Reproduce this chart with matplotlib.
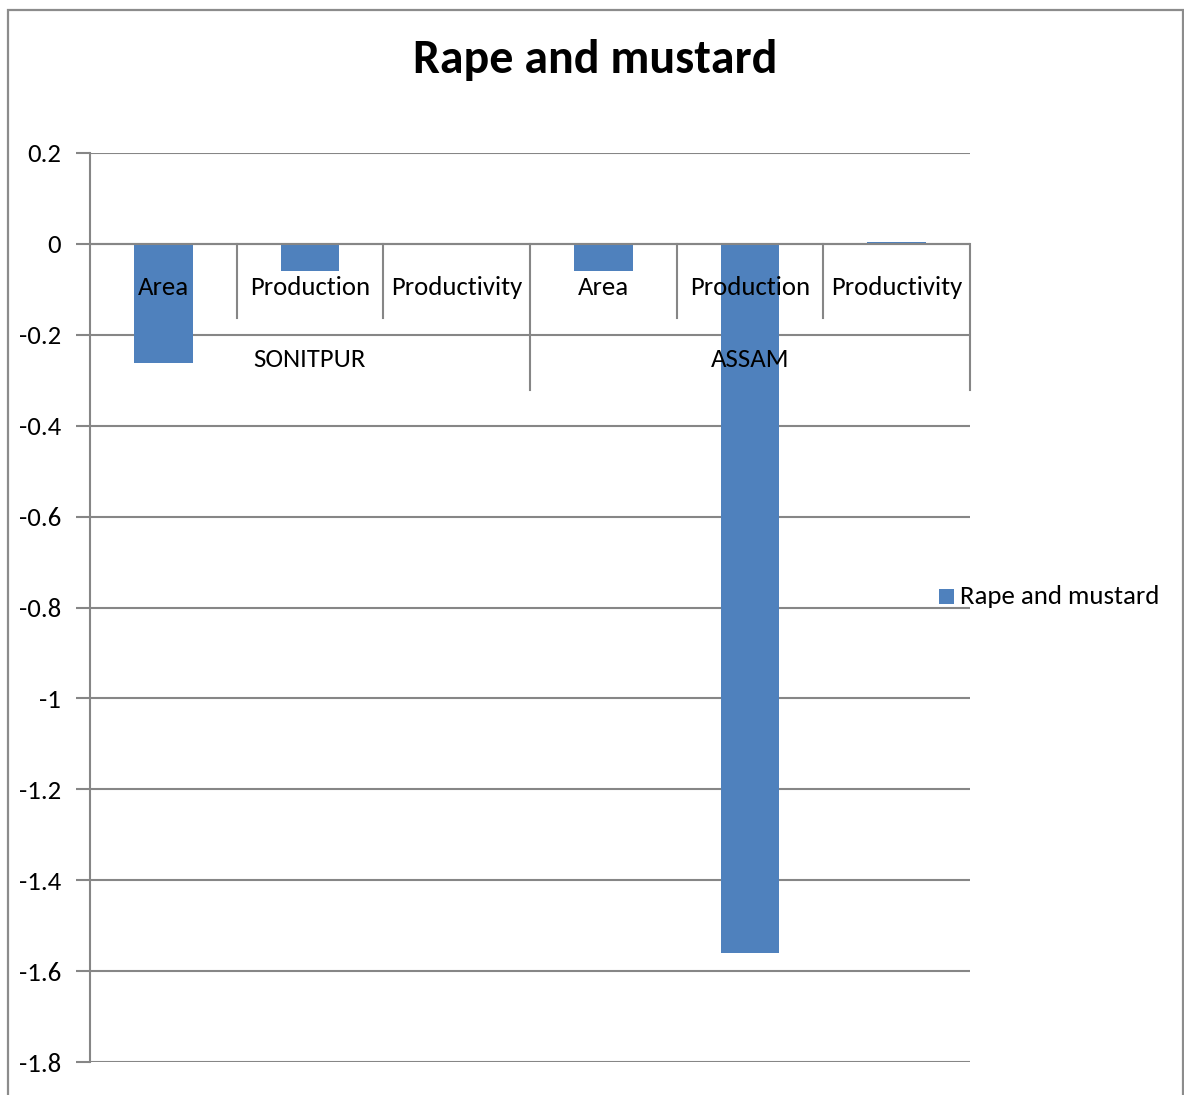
import matplotlib
matplotlib.use("Agg")
import matplotlib.pyplot as plt
from matplotlib.patches import Rectangle

# Change figures for rape and mustard
groups = ["SONITPUR", "ASSAM"]
measures = ["Area", "Production", "Productivity"]
values = [-0.262, -0.06, 0.0, -0.06, -1.56, 0.004]
series_name = "Rape and mustard"
yticks = [0.2, 0, -0.2, -0.4, -0.6, -0.8, -1, -1.2, -1.4, -1.6, -1.8]
ytick_labels = ["0.2", "0", "-0.2", "-0.4", "-0.6", "-0.8", "-1", "-1.2", "-1.4", "-1.6", "-1.8"]

BAR = "#4F81BD"
GRID = "#868686"
FONT = ["Carlito", "DejaVu Sans"]
FS = 19.3

W, H = 1184, 1095
fig = plt.figure(figsize=(W / 100, H / 100), dpi=100)
fig.patch.set_facecolor("white")

# outer chart border
fig.add_artist(Rectangle((8 / W, -0.1), 1175 / W, 1.1 - 10 / H, transform=fig.transFigure,
                         fill=False, edgecolor="#8c8c8c", linewidth=1.6))

ax = fig.add_axes([90 / W, 1 - 1062 / H, 880 / W, 909 / H])
n = len(values)
x = list(range(n))
ax.bar(x, values, width=0.4, color=BAR, zorder=2)
ax.set_xlim(-0.5, n - 0.5)
ax.set_ylim(-1.8, 0.2)

ax.set_yticks(yticks)
ax.set_yticklabels(ytick_labels, fontsize=FS, family=FONT)
ax.tick_params(axis="y", length=10, width=1.5, color=GRID, pad=11)
ax.set_xticks([])
ax.yaxis.grid(True, color=GRID, linewidth=1.5, zorder=0)
ax.set_axisbelow(True)
for s in ["top", "right", "bottom"]:
    ax.spines[s].set_visible(False)
ax.spines["left"].set_color(GRID)
ax.spines["left"].set_linewidth(1.5)

# category axis line at zero
ax.axhline(0, color=GRID, linewidth=1.5, zorder=3)

# two-level category labels hanging below the zero line
for i in range(n):
    ax.annotate(measures[i % 3], xy=(i, 0), xytext=(0, -44), textcoords="offset pixels",
                ha="center", va="center", fontsize=FS, family=FONT, zorder=5)
for g, name in enumerate(groups):
    ax.annotate(name, xy=(g * 3 + 1, 0), xytext=(0, -116), textcoords="offset pixels",
                ha="center", va="center", fontsize=FS, family=FONT, zorder=5)

# separators between categories and between groups
per_px = 2.0 / 909
for b in [0.5, 1.5, 3.5, 4.5]:
    ax.plot([b, b], [0, -74 * per_px], color=GRID, linewidth=1.5, zorder=3, clip_on=False)
for b in [2.5, 5.5]:
    ax.plot([b, b], [0, -146 * per_px], color=GRID, linewidth=1.5, zorder=3, clip_on=False)

fig.text(595 / W, 1 - 60 / H, series_name, ha="center", va="center",
         fontsize=34.5, fontweight="bold", family=FONT)

# legend
fig.add_artist(Rectangle((939 / W, 1 - 604 / H), 15 / W, 15 / H, transform=fig.transFigure,
                         facecolor=BAR, edgecolor="none"))
fig.text(960 / W, 1 - 597 / H, series_name, ha="left", va="center", fontsize=FS, family=FONT)

fig.savefig("out.png", dpi=100)
